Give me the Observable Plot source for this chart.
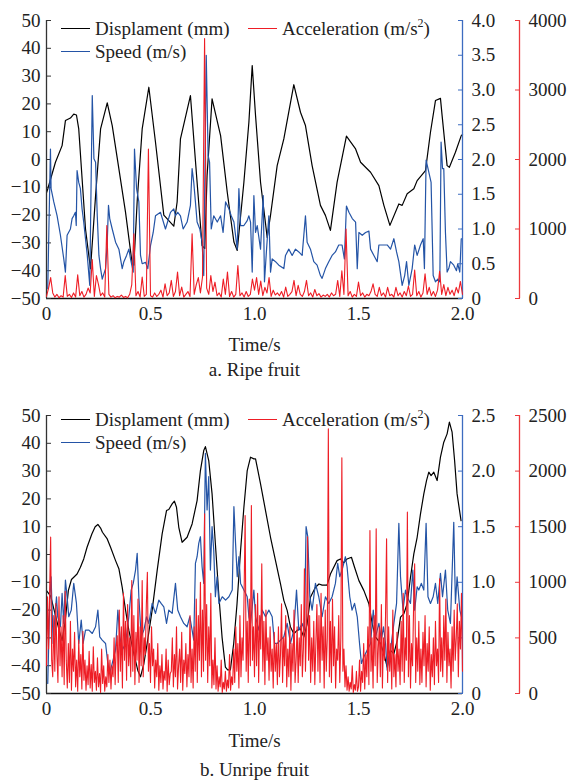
<!DOCTYPE html>
<html><head><meta charset="utf-8">
<script src="https://cdn.jsdelivr.net/npm/d3@7"></script>
<script src="https://cdn.jsdelivr.net/npm/@observablehq/plot@0.6"></script>
<style>
body{margin:0;background:#fff;}
#root{position:relative;width:572px;height:780px;font-family:"Liberation Serif","Times New Roman",serif;color:#222;}
.panel{position:absolute;left:0;width:572px;}
.panel svg{position:absolute;left:0;top:0;}
.leg{position:absolute;font-size:19px;line-height:19px;height:19px;white-space:nowrap;display:flex;align-items:center;}
.leg i{display:inline-block;width:29px;height:0;border-top:1.5px solid;margin-right:5px;}
.leg sup{font-size:12px;line-height:0;position:relative;top:-1px;}
</style></head>
<body><div id="root"></div>
<script>
// ---------- ticks ----------
const timeTicks = [0, 0.5, 1, 1.5, 2];
const dispTicks = [-50, -40, -30, -20, -10, 0, 10, 20, 30, 40, 50];
const ripeSpeedTicks = [0, 0.5, 1, 1.5, 2, 2.5, 3, 3.5, 4];
const ripeAccTicks = [0, 1000, 2000, 3000, 4000];
const unripeSpeedTicks = [0, 0.5, 1, 1.5, 2, 2.5];
const unripeAccTicks = [0, 500, 1000, 1500, 2000, 2500];

// ---------- a. Ripe fruit ----------
const ripeDisp = [[0,-12],[0.006,-10.6],[0.043,-1],[0.075,5],[0.091,14],[0.115,14.9],[0.131,16.3],[0.144,16],[0.155,11],[0.1875,-25],[0.2115,-39.3],[0.236,-13],[0.26,11],[0.292,20.4],[0.316,12.2],[0.348,-3.4],[0.38,-19],[0.412,-37.5],[0.42,-38],[0.436,-15],[0.46,11],[0.492,26],[0.524,6.2],[0.564,-20],[0.588,-22],[0.612,-24],[0.628,-15.3],[0.644,7.4],[0.692,23],[0.724,-8.2],[0.748,-31],[0.761,-32],[0.772,-5.8],[0.796,21.8],[0.837,8.6],[0.869,-11.8],[0.901,-29.7],[0.917,-32.7],[0.949,-8.2],[0.973,13.4],[0.989,33.8],[1.005,15.8],[1.029,-8.2],[1.061,-28],[1.077,-20.1],[1.109,-2.2],[1.141,7.4],[1.189,26.9],[1.221,17],[1.245,12.2],[1.277,-2.2],[1.317,-16.5],[1.341,-20.1],[1.365,-25.5],[1.397,-8.2],[1.442,8.4],[1.486,3.8],[1.51,-1],[1.558,-4.6],[1.598,-9.4],[1.622,-16.5],[1.651,-23.7],[1.694,-16],[1.71,-16.5],[1.734,-12.3],[1.766,-10.5],[1.782,-7.6],[1.822,-4],[1.846,9.8],[1.87,21.2],[1.894,22],[1.902,15.8],[1.926,-2.2],[1.937,-2.8],[1.966,2.6],[1.994,8.6],[2,9]];
const ripeSpeed = [[0.006,0.14],[0.019,2.15],[0.022,1.58],[0.035,1.39],[0.051,1.19],[0.067,0.91],[0.083,0.57],[0.091,0.38],[0.099,0.91],[0.115,1.0],[0.123,1.15],[0.131,1.19],[0.139,1.24],[0.143,1.05],[0.147,1.84],[0.155,1.67],[0.163,1.58],[0.171,1.29],[0.179,1.1],[0.196,0.62],[0.208,0.19],[0.22,2.92],[0.228,2.01],[0.236,1.96],[0.244,1.19],[0.252,0.62],[0.26,0.43],[0.268,0.28],[0.284,0.43],[0.292,0.81],[0.298,1.34],[0.304,1.15],[0.316,1.0],[0.332,0.81],[0.348,0.71],[0.364,0.43],[0.372,0.53],[0.385,0.62],[0.396,0.71],[0.404,0.57],[0.417,0.38],[0.423,2.15],[0.433,1.58],[0.444,1.39],[0.452,0.62],[0.46,0.5],[0.476,0.52],[0.487,0.43],[0.5,0.76],[0.513,0.95],[0.524,1.19],[0.548,1.24],[0.572,1.0],[0.596,1.24],[0.612,1.29],[0.62,1.19],[0.631,1.24],[0.644,1.19],[0.657,1.0],[0.676,1.1],[0.692,1.34],[0.7,1.87],[0.708,1.67],[0.716,1.39],[0.724,1.1],[0.737,1.0],[0.748,0.81],[0.756,0.33],[0.768,3.5],[0.777,2.06],[0.784,1.96],[0.792,1.0],[0.804,1.19],[0.821,1.1],[0.837,1.19],[0.849,0.95],[0.861,1.39],[0.877,1.29],[0.888,1.19],[0.901,1.1],[0.917,0.71],[0.925,1.58],[0.933,1.05],[0.949,1.05],[0.965,1.12],[0.973,1.19],[0.981,1.1],[0.989,0.38],[0.997,1.48],[1.005,0.95],[1.013,1.05],[1.029,0.71],[1.042,1.48],[1.048,0.24],[1.058,0.71],[1.069,1.19],[1.077,0.38],[1.085,0.57],[1.101,0.53],[1.117,0.48],[1.141,0.43],[1.149,0.62],[1.165,0.71],[1.181,0.62],[1.197,0.71],[1.213,0.67],[1.229,0.62],[1.245,1.19],[1.253,0.81],[1.269,0.71],[1.285,0.53],[1.301,0.48],[1.317,0.33],[1.325,0.29],[1.341,0.43],[1.357,0.53],[1.373,0.62],[1.389,0.67],[1.405,0.77],[1.421,0.77],[1.432,0.57],[1.442,1.33],[1.454,1.24],[1.47,1.15],[1.486,1.1],[1.494,0.43],[1.502,0.95],[1.518,0.91],[1.534,0.95],[1.55,0.97],[1.558,0.71],[1.574,0.62],[1.59,0.53],[1.598,0.77],[1.614,0.77],[1.638,0.77],[1.654,0.71],[1.67,0.86],[1.683,0.67],[1.694,0.53],[1.71,0.19],[1.722,0.33],[1.731,0.53],[1.742,0.19],[1.758,0.43],[1.77,0.77],[1.782,0.62],[1.798,0.77],[1.811,0.86],[1.817,0.43],[1.825,1.99],[1.838,1.82],[1.849,1.67],[1.859,0.33],[1.87,0.24],[1.881,0.28],[1.891,0.24],[1.897,2.25],[1.904,1.87],[1.91,1.87],[1.918,0.95],[1.926,0.38],[1.934,0.43],[1.942,0.53],[1.958,0.48],[1.971,0.4],[1.977,0.5],[1.987,0.38],[1.994,0.86],[2,0.86]];
const ripeAccStep = 0.01;
const ripeAcc = [
30,150,300,80,20,60,10,40,20,330,
30,60,15,80,20,340,40,100,20,60,
150,80,560,30,330,200,40,80,20,1050,
60,20,40,10,30,20,50,15,30,10,
60,200,930,40,100,20,310,30,60,2150,
40,20,80,30,60,120,20,210,40,80,
260,30,100,380,40,165,20,60,100,30,
930,60,200,300,80,310,3740,150,60,330,
100,235,40,80,20,280,60,380,30,100,
20,60,475,40,80,20,100,30,60,280,
120,300,60,250,40,160,80,300,30,120,
50,80,40,100,20,165,30,60,100,260,
40,190,60,30,100,260,40,80,20,130,
40,70,20,50,30,60,20,80,40,60,
260,30,400,60,1000,40,100,20,60,30,
235,40,80,20,60,40,100,210,60,30,
160,40,80,20,160,40,60,20,160,40,
80,20,100,40,180,30,60,410,40,100,
20,80,355,60,160,40,100,30,120,390,
60,200,40,160,60,120,40,160,80,245,
60];

// ---------- b. Unripe fruit ----------
const unripeDisp = [[0,-13],[0.02,-15],[0.04,-21],[0.06,-27],[0.075,-31],[0.09,-24],[0.105,-13],[0.12,-9],[0.147,-7],[0.163,-4.6],[0.179,-1.6],[0.195,2.6],[0.218,7.4],[0.234,10],[0.247,10.8],[0.26,9.5],[0.269,8],[0.292,5.6],[0.308,2.6],[0.332,-2.2],[0.348,-5.1],[0.364,-11.8],[0.38,-20],[0.396,-27.3],[0.42,-35.7],[0.439,-41.7],[0.452,-44],[0.468,-39.3],[0.484,-32],[0.508,-20],[0.532,-5.8],[0.556,7.4],[0.577,15.8],[0.588,16.2],[0.604,18.2],[0.615,19.2],[0.625,17],[0.636,9.8],[0.652,4.4],[0.676,6.2],[0.7,11],[0.724,19.4],[0.74,30.2],[0.756,37.4],[0.764,38.8],[0.78,33.8],[0.796,21.8],[0.812,3.8],[0.828,-14.1],[0.844,-29.7],[0.86,-40.5],[0.871,-41.5],[0.884,-41.5],[0.9,-32],[0.916,-17.7],[0.933,1.4],[0.949,17],[0.965,30.2],[0.981,35],[0.997,34.4],[1.005,34.4],[1.013,31.4],[1.029,25.4],[1.053,15.8],[1.077,6.2],[1.101,-2.2],[1.125,-10.6],[1.141,-16.5],[1.157,-20.1],[1.173,-26.1],[1.189,-28.5],[1.205,-27.3],[1.221,-26.7],[1.237,-29.7],[1.253,-25],[1.269,-15.4],[1.293,-11.8],[1.31,-10.6],[1.325,-11],[1.349,-11],[1.365,-7],[1.381,-4.6],[1.397,-2.2],[1.413,-1.6],[1.429,-3],[1.445,-1.6],[1.466,-1],[1.481,-4.6],[1.502,-9.4],[1.526,-13],[1.55,-17.7],[1.566,-25],[1.582,-29.7],[1.606,-32],[1.622,-35.7],[1.638,-40.5],[1.654,-34.5],[1.67,-35.7],[1.686,-31],[1.702,-22.5],[1.718,-21.3],[1.734,-17.7],[1.75,-8.2],[1.766,0.2],[1.782,6.2],[1.798,14.6],[1.814,21.8],[1.827,26.6],[1.838,29.6],[1.849,28.4],[1.862,29.6],[1.878,26.6],[1.894,35],[1.91,40.4],[1.926,43.4],[1.937,47.6],[1.95,44],[1.962,33.8],[1.974,21.8],[1.993,12.2]];
const unripeSpeed = [[0.006,0.09],[0.016,0.87],[0.022,1.05],[0.032,0.45],[0.038,0.63],[0.048,0.87],[0.054,0.69],[0.067,0.6],[0.075,0.9],[0.083,0.63],[0.091,1.02],[0.099,0.87],[0.107,0.69],[0.119,0.75],[0.131,0.99],[0.144,0.81],[0.155,0.45],[0.167,0.66],[0.176,0.45],[0.1875,0.57],[0.204,0.57],[0.22,0.54],[0.236,0.6],[0.247,0.75],[0.256,0.51],[0.268,0.48],[0.284,0.45],[0.295,0.27],[0.304,0.18],[0.316,0.27],[0.332,0.39],[0.343,0.75],[0.353,0.51],[0.364,0.39],[0.38,0.45],[0.396,0.69],[0.407,0.93],[0.417,0.99],[0.428,1.11],[0.436,1.26],[0.444,0.87],[0.455,0.51],[0.468,0.57],[0.481,0.69],[0.492,0.63],[0.508,0.81],[0.524,0.72],[0.54,0.84],[0.551,0.81],[0.564,0.78],[0.577,0.63],[0.588,0.75],[0.604,0.72],[0.62,0.99],[0.631,0.75],[0.644,0.69],[0.66,0.63],[0.676,0.6],[0.689,0.69],[0.7,0.57],[0.708,0.48],[0.716,1.17],[0.724,1.23],[0.732,1.35],[0.74,1.41],[0.748,1.14],[0.756,0.99],[0.764,2.16],[0.772,1.65],[0.78,1.95],[0.788,1.11],[0.796,1.5],[0.804,1.29],[0.812,0.87],[0.82,1.05],[0.829,0.81],[0.845,0.87],[0.861,0.84],[0.877,0.87],[0.893,0.93],[0.901,1.68],[0.909,1.35],[0.917,1.05],[0.925,1.23],[0.933,0.99],[0.949,0.93],[0.965,0.87],[0.973,0.69],[0.981,0.63],[0.997,0.93],[1.005,0.69],[1.021,0.57],[1.037,0.75],[1.053,0.69],[1.069,0.75],[1.085,0.69],[1.096,0.45],[1.109,0.45],[1.125,0.48],[1.141,0.51],[1.157,0.63],[1.173,0.45],[1.189,0.57],[1.202,0.93],[1.213,0.57],[1.229,0.63],[1.24,0.57],[1.248,1.5],[1.256,1.41],[1.266,0.87],[1.277,0.75],[1.293,0.99],[1.309,0.87],[1.325,0.69],[1.341,0.87],[1.357,0.81],[1.373,0.87],[1.389,0.99],[1.4,1.17],[1.41,1.05],[1.421,1.11],[1.437,1.23],[1.445,1.14],[1.458,0.87],[1.469,0.75],[1.481,0.81],[1.494,0.69],[1.505,0.45],[1.514,0.27],[1.526,0.33],[1.542,0.39],[1.558,0.45],[1.571,0.75],[1.582,0.51],[1.598,0.63],[1.61,0.48],[1.62,0.6],[1.63,0.45],[1.638,0.21],[1.646,0.33],[1.654,0.39],[1.67,0.63],[1.683,0.81],[1.694,1.53],[1.702,1.05],[1.714,0.75],[1.726,0.93],[1.734,0.87],[1.75,0.81],[1.761,1.11],[1.77,0.75],[1.782,0.96],[1.79,0.93],[1.802,0.99],[1.814,0.93],[1.825,1.53],[1.834,0.87],[1.846,0.81],[1.859,0.87],[1.87,0.99],[1.881,0.81],[1.894,1.08],[1.904,0.87],[1.918,1.11],[1.929,0.75],[1.942,0.63],[1.958,1.54],[1.966,0.81],[1.974,1.05],[1.987,0.75],[1.995,0.69]];
const unripeAccStep = 0.005;
const unripeAcc = [
250,870,400,900,1406,300,150,700,200,810,350,100,870,250,600,150,700,80,920,300,
50,450,100,650,30,400,200,550,60,300,20,480,150,350,40,560,120,300,30,250,
80,380,50,260,20,420,100,200,30,320,60,180,10,400,90,250,20,150,60,350,
100,300,40,250,150,500,80,420,520,100,750,200,600,50,900,300,650,120,800,250,
500,150,1016,200,700,80,550,300,850,100,600,250,1016,150,500,350,800,1091,200,450,
100,600,250,400,50,300,150,450,30,250,100,350,40,200,120,400,20,300,80,180,
200,500,60,350,150,600,40,250,400,100,550,30,300,180,450,60,350,150,700,100,
400,50,600,200,850,100,700,300,1000,150,750,200,1616,300,800,100,600,250,900,50,
300,80,500,40,250,20,150,60,300,10,100,40,200,20,120,50,350,30,150,80,
400,100,600,200,450,50,700,150,500,300,900,1601,200,650,100,850,250,1691,300,600,
150,800,250,900,100,700,400,1166,200,650,80,750,300,500,120,600,200,400,50,550,
200,450,80,600,150,350,807,100,500,250,700,60,400,150,600,30,450,200,750,100,
300,600,100,500,250,800,150,400,1121,200,600,1410,300,700,100,500,200,650,80,450,
800,200,700,100,900,300,600,50,750,200,500,2380,150,650,100,850,250,600,50,400,
300,700,100,500,2120,200,400,60,250,30,150,20,100,40,250,10,80,30,200,20,
60,300,20,200,100,450,40,350,150,600,80,1466,200,500,50,700,250,1481,100,400,
600,150,800,50,500,300,700,1391,100,600,200,450,40,750,150,350,60,550,200,400,
80,650,200,900,100,500,300,1631,150,700,50,450,250,800,1166,100,500,200,650,80,
400,100,550,250,700,60,450,200,600,30,350,150,500,80,650,250,400,100,1031,200,
500,150,700,300,850,100,550,250,400,50,600,200,750,300,500,807,150,650,400,900,
200];

// ---------- styles ----------
const C = {disp: "#000000", speed: "#2454a6", acc: "#ee1d25", speedAxis: "#3d6cc0", accAxis: "#ec3a3e", text: "#222"};
const FONT = "'Liberation Serif','Times New Roman',serif";
const W = 572, ML = 46, MR = 110, MT = 20, PLOT_BOTTOM = 298;
const fmt1 = d => d === 0 ? "0" : d.toFixed(1);

function layer(H, yDomain, marks) {
  return Plot.plot({
    width: W, height: H, marginLeft: ML, marginRight: MR, marginTop: MT, marginBottom: H - PLOT_BOTTOM,
    x: {domain: [0, 2], axis: null},
    y: {domain: yDomain, axis: null},
    style: `background:transparent;font:19px ${FONT};color:${C.text};overflow:visible;`,
    marks
  });
}

function panel({top, H, caption, capDy, labelDy, disp, speed, speedTicks, acc, accStep, accTicks, legTop}) {
  const div = document.createElement("div");
  div.className = "panel";
  div.style.top = top + "px";
  div.style.height = H + "px";
  const speedMax = speedTicks[speedTicks.length - 1];
  const accMax = accTicks[accTicks.length - 1];

  const l0 = layer(H, [-50, 50], [
    Plot.ruleY([-50], {x1: 0, x2: 2, stroke: "#111", strokeWidth: 1.5})
  ]);
  const l1 = layer(H, [-50, 50], [
    Plot.line(disp, {x: d => d[0], y: d => d[1], stroke: C.disp, strokeWidth: 1.2}),
    Plot.ruleX([0], {y1: -50, y2: 50, stroke: "#333", strokeWidth: 1.3}),
    Plot.axisY(dispTicks, {anchor: "left", tickSize: -5, tickPadding: 11, stroke: "#333", fill: C.text, tickFormat: d3.format("d"), label: null}),
    Plot.axisX(timeTicks, {anchor: "bottom", tickSize: 0, tickPadding: 8, fill: C.text, tickFormat: fmt1, label: null}),
    Plot.text(["Time/s"], {text: d => d, frameAnchor: "bottom", dy: labelDy, fill: C.text}),
    Plot.text([caption], {text: d => d, frameAnchor: "bottom", dy: capDy, fill: C.text})
  ]);
  const l2 = layer(H, [0, speedMax], [
    Plot.line(speed, {x: d => d[0], y: d => d[1], stroke: C.speed, strokeWidth: 1.2}),
    Plot.ruleX([2], {y1: 0, y2: speedMax, stroke: C.speedAxis, strokeWidth: 1.3}),
    Plot.axisY(speedTicks, {anchor: "right", tickSize: -5, tickPadding: 14, stroke: C.speedAxis, fill: C.text, tickFormat: fmt1, label: null})
  ]);
  const l3 = layer(H, [0, accMax], [
    Plot.line(acc, {x: (d, i) => i * accStep, y: d => d, stroke: C.acc, strokeWidth: 1.1}),
    Plot.ruleX([2], {y1: 0, y2: accMax, dx: 57, stroke: C.accAxis, strokeWidth: 1.3}),
    Plot.axisY(accTicks, {anchor: "right", dx: 57, tickSize: -5, tickPadding: 14, stroke: C.accAxis, fill: C.text, tickFormat: d3.format("d"), label: null})
  ]);
  div.append(l0, l1, l2, l3);

  const leg = (left, topPx, color, html) => {
    const e = document.createElement("div");
    e.className = "leg";
    e.style.left = left + "px";
    e.style.top = topPx + "px";
    e.innerHTML = `<i style="border-color:${color}"></i><span>${html}</span>`;
    div.append(e);
  };
  leg(61, legTop, C.disp, "Displament (mm)");
  leg(248, legTop, C.acc, "Acceleration (m/s<sup>2</sup>)");
  leg(61, legTop + 23, C.speed, "Speed (m/s)");
  return div;
}

const root = document.getElementById("root");
root.append(panel({top: 0, H: 390, caption: "a. Ripe fruit", capDy: 77, labelDy: 52,
  disp: ripeDisp, speed: ripeSpeed, speedTicks: ripeSpeedTicks, acc: ripeAcc, accStep: ripeAccStep, accTicks: ripeAccTicks, legTop: 19}));
root.append(panel({top: 395, H: 385, caption: "b. Unripe fruit", capDy: 82, labelDy: 53,
  disp: unripeDisp, speed: unripeSpeed, speedTicks: unripeSpeedTicks, acc: unripeAcc, accStep: unripeAccStep, accTicks: unripeAccTicks, legTop: 15}));
</script>
</body></html>
